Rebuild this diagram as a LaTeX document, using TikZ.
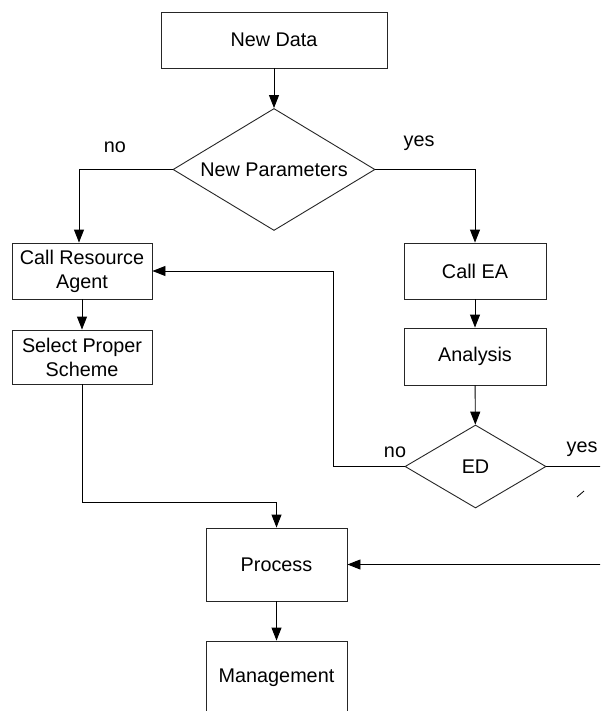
\documentclass[tikz,border=0pt]{standalone}
\usepackage{fontspec}
\setmainfont{Liberation Sans}
\usetikzlibrary{arrows.meta,shapes.geometric}
\tikzset{
  procbox/.style={draw=black!85, line width=0.9pt, rectangle, inner sep=0pt,
    align=center, font=\fontsize{19.8}{24}\selectfont},
  decision/.style={draw=black!85, line width=0.9pt, diamond, inner sep=0pt,
    font=\fontsize{19.8}{24}\selectfont},
  flow/.style={draw=black, line width=0.9pt},
  arr/.style={flow, -{Triangle[length=13pt,width=10pt]}},
  lbl/.style={anchor=base, inner sep=0pt, font=\fontsize{19.8}{24}\selectfont}
}
\begin{document}
\begin{tikzpicture}[x=1pt,y=-1pt]
  \useasboundingbox (0,0) rectangle (600,711);
  \clip (0,0) rectangle (600,711);
  \fill[white] (0,0) rectangle (600,711);

  % blocks
  \node[procbox, minimum width=226pt, minimum height=56pt] (newdata) at (274,40) {New Data};
  \node[decision, shape aspect=1.656, minimum width=202pt, minimum height=122pt] (newpar) at (274,169.5) {New Parameters};
  \node[procbox, minimum width=140pt, minimum height=56pt] (resagent) at (82,271) {Call Resource\\Agent};
  \node[procbox, minimum width=140pt, minimum height=54pt] (scheme) at (82,357) {Select Proper\\Scheme};
  \node[procbox, minimum width=142pt, minimum height=56pt] (callea) at (475,271) {Call EA};
  \node[procbox, minimum width=142pt, minimum height=57pt] (analysis) at (475,356.5) {Analysis};
  \node[decision, shape aspect=1.7, minimum width=141pt, minimum height=83pt] (ed) at (475.5,466.5) {ED};
  \node[procbox, minimum width=141pt, minimum height=73pt] (process) at (276.5,564.5) {Process};
  \node[procbox, minimum width=141pt, minimum height=73pt] (manage) at (276.5,677.5) {Management};

  % bend points and free ends
  \coordinate (noturn) at (79,169.5);
  \coordinate (edback) at (333,466.5);
  \coordinate (join) at (276.5,502);
  \coordinate (edout) at (606,466.5);
  \coordinate (procin) at (606,564.5);

  % connectors
  \draw[arr] (newdata) -- (newpar);
  \draw[arr] (newpar.west) -- (noturn) -- (noturn |- resagent.north);
  \draw[arr] (newpar.east) -| (callea.north);
  \draw[arr] (resagent) -- (scheme);
  \draw[arr] (scheme.south) |- (join) -- (process.north);
  \draw[arr] (callea) -- (analysis);
  \draw[arr] (analysis) -- (ed);
  \draw[arr] (ed.west) -- (edback) |- (resagent.east);
  \draw[flow] (ed.east) -- (edout);
  \draw[arr] (procin) -- (process.east);
  \draw[arr] (process) -- (manage);

  % small stroke below the yes branch
  \draw[line width=0.8pt] (577,497) -- (584,491);

  % branch labels
  \node[lbl] (npno) at (115,153) {no};
  \node[lbl] (npyes) at (419,147) {yes};
  \node[lbl] (edno) at (395,457) {no};
  \node[lbl] (edyes) at (582,452) {yes};
\end{tikzpicture}
\end{document}
